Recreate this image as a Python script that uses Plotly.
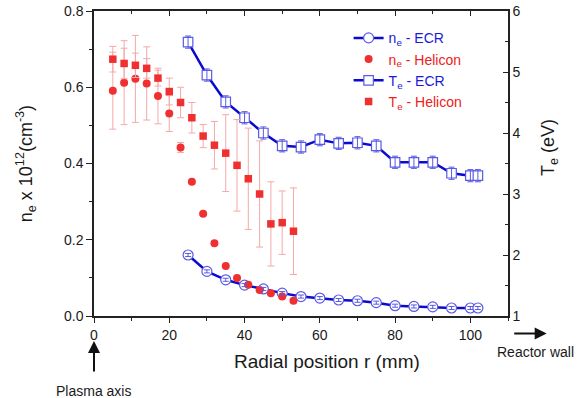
import plotly.graph_objects as go

# ---------------- data ----------------
r_ecr = [25, 30, 35, 40, 45, 50, 55, 60, 65, 70, 75, 80, 85, 90, 95, 100, 102]
ne_ecr = [0.160, 0.117, 0.095, 0.081, 0.071, 0.060, 0.051, 0.047, 0.042, 0.040, 0.035,
          0.027, 0.025, 0.024, 0.021, 0.021, 0.021]
ne_ecr_err = [0.004] * 17
te_ecr = [5.49, 4.95, 4.51, 4.25, 4.00, 3.79, 3.77, 3.89, 3.83, 3.84, 3.79,
          3.52, 3.52, 3.52, 3.34, 3.30, 3.30]
te_ecr_err = [0.1] * 17

r_hel = [5, 8, 11, 14, 17, 20, 23, 26, 29, 32, 35, 38, 41, 44, 47, 50, 53]
ne_hel = [0.591, 0.612, 0.622, 0.610, 0.577, 0.531, 0.442, 0.352, 0.268, 0.191,
          0.131, 0.100, 0.082, 0.068, 0.060, 0.051, 0.040]
ne_hel_err = [0.101, 0.110, 0.114, 0.096, 0.073, 0.047, 0.013, 0, 0, 0,
              0, 0, 0, 0, 0, 0, 0]
te_hel = [5.21, 5.14, 5.11, 5.06, 4.90, 4.68, 4.50, 4.25, 3.95, 3.80,
          3.67, 3.47, 3.25, 3.00, 2.51, 2.53, 2.39]
te_hel_err = [0.21, 0.25, 0.20, 0.16, 0.13, 0.22, 0.25, 0.25, 0.19, 0.39,
              0.63, 0.75, 0.83, 0.87, 0.69, 0.52, 0.71]

x_ticks = [0, 20, 40, 60, 80, 100]

BLUE_LINE = "#0a0ad0"
BLUE_MK = "#5a5ae6"
RED = "#f03030"
RED_ERR = "#f5a8a8"
FONT = "Liberation Sans, Arial, sans-serif"
TXT = "#1a1a1a"

fig = go.Figure()

# n_e ECR (legend trace)
fig.add_trace(go.Scatter(
    x=r_ecr, y=ne_ecr, mode="lines+markers",
    name="<span style='color:#1a1ad8'>n<sub>e</sub> - ECR</span>",
    line=dict(color=BLUE_LINE, width=2.5),
    marker=dict(symbol="circle", size=10, color="white",
                line=dict(color=BLUE_MK, width=1.2)),
))
# n_e Helicon
fig.add_trace(go.Scatter(
    x=r_hel, y=ne_hel, mode="markers",
    name="<span style='color:#ee2020'>n<sub>e</sub> - Helicon</span>",
    marker=dict(symbol="circle", size=8, color=RED),
    error_y=dict(type="data", array=ne_hel_err, color=RED_ERR, thickness=1, width=3.5),
))
# T_e ECR
fig.add_trace(go.Scatter(
    x=r_ecr, y=te_ecr, mode="lines+markers", yaxis="y2",
    name="<span style='color:#1a1ad8'>T<sub>e</sub> - ECR</span>",
    line=dict(color=BLUE_LINE, width=2.5),
    marker=dict(symbol="square", size=9.5, color="white",
                line=dict(color=BLUE_MK, width=1.2)),
))
# T_e Helicon
fig.add_trace(go.Scatter(
    x=r_hel, y=te_hel, mode="markers", yaxis="y2",
    name="<span style='color:#ee2020'>T<sub>e</sub> - Helicon</span>",
    marker=dict(symbol="square", size=7.5, color=RED),
    error_y=dict(type="data", array=te_hel_err, color=RED_ERR, thickness=1, width=3.5),
))
# small error bars on ECR points (drawn above the hollow markers)
fig.add_trace(go.Scatter(
    x=r_ecr, y=ne_ecr, mode="markers", showlegend=False, hoverinfo="skip",
    marker=dict(size=1, color="rgba(0,0,0,0)"),
    error_y=dict(type="data", array=ne_ecr_err, color=BLUE_MK, thickness=1, width=3),
))
fig.add_trace(go.Scatter(
    x=r_ecr, y=te_ecr, mode="markers", yaxis="y2", showlegend=False, hoverinfo="skip",
    marker=dict(size=1, color="rgba(0,0,0,0)"),
    error_y=dict(type="data", array=te_ecr_err, color=BLUE_MK, thickness=1, width=3),
))
# dummy trace for the top (mirror) axis
fig.add_trace(go.Scatter(x=[None], y=[None], xaxis="x2", showlegend=False, hoverinfo="skip"))

fig.update_layout(
    width=581, height=398,
    margin=dict(l=94, r=73, t=11, b=82, autoexpand=False),
    paper_bgcolor="white", plot_bgcolor="white",
    font=dict(family=FONT, size=14, color=TXT),
    showlegend=True,
    legend=dict(x=0.615, y=0.963, xanchor="left", yanchor="top",
                bgcolor="rgba(0,0,0,0)", font=dict(size=14), tracegroupgap=0,
                itemwidth=30),
    xaxis=dict(range=[0, 110], tickvals=x_ticks, ticks="outside", ticklen=5,
               tickwidth=1.2, tickcolor="#222", showline=True, linecolor="#222",
               linewidth=1.5, showgrid=False, zeroline=False, automargin=False,
               minor=dict(dtick=10, ticks="outside", ticklen=3, tickcolor="#222"),
               tickfont=dict(size=14)),
    xaxis2=dict(range=[0, 110], overlaying="x", side="top", anchor="y",
                tickvals=x_ticks, ticks="inside", ticklen=5, tickcolor="#222",
                showticklabels=False, showline=True, linecolor="#222", linewidth=1.5,
                showgrid=False, zeroline=False, automargin=False,
                minor=dict(dtick=10, ticks="inside", ticklen=3, tickcolor="#222")),
    yaxis=dict(range=[0, 0.8], dtick=0.2, tickformat=".1f", ticks="outside",
               ticklen=6, tickcolor="#222", showline=True, linecolor="#222",
               linewidth=1.5, showgrid=False, zeroline=False, automargin=False,
               minor=dict(dtick=0.1, ticks="outside", ticklen=3, tickcolor="#222"),
               tickfont=dict(size=14)),
    yaxis2=dict(range=[1, 6], dtick=1, overlaying="y", side="right", anchor="x",
                ticks="inside", ticklen=5, tickcolor="#222", showline=True,
                linecolor="#222", linewidth=1.5, showgrid=False, zeroline=False,
                automargin=False,
                minor=dict(dtick=0.5, ticks="inside", ticklen=3, tickcolor="#222"),
                tickfont=dict(size=14)),
)

# axis titles
fig.add_annotation(xref="paper", yref="paper", x=0.563, y=-0.15, showarrow=False,
                   xanchor="center", yanchor="middle",
                   text="Radial position r (mm)", font=dict(size=19))
fig.add_annotation(xref="paper", yref="paper", x=-0.165, y=0.5, showarrow=False,
                   xanchor="center", yanchor="middle",
                   text="n<sub>e</sub> x 10<sup>12</sup>(cm<sup>-3</sup>)", textangle=-90,
                   font=dict(size=18))
fig.add_annotation(xref="paper", yref="paper", x=1.099, y=0.554, showarrow=False,
                   xanchor="center", yanchor="middle",
                   text="T<sub>e</sub> (eV)", textangle=-90, font=dict(size=18))

# Plasma axis arrow + label
fig.add_annotation(xref="x", yref="paper", x=0, y=-0.082, text="", showarrow=True,
                   ax=0, ay=32, arrowhead=2, arrowsize=1.2, arrowwidth=2, arrowcolor="#111")
fig.add_annotation(xref="paper", yref="paper", x=-0.002, y=-0.245, showarrow=False,
                   xanchor="center", yanchor="middle",
                   text="Plasma axis", font=dict(size=14))
# Reactor wall arrow + label
fig.add_annotation(xref="paper", yref="paper", x=1.0935, y=-0.057, text="", showarrow=True,
                   ax=-34, ay=0, arrowhead=2, arrowsize=1.2, arrowwidth=2, arrowcolor="#111")
fig.add_annotation(xref="paper", yref="paper", x=1.066, y=-0.118, showarrow=False,
                   xanchor="center", yanchor="middle",
                   text="Reactor wall", font=dict(size=14))

fig.write_html("out.html")
